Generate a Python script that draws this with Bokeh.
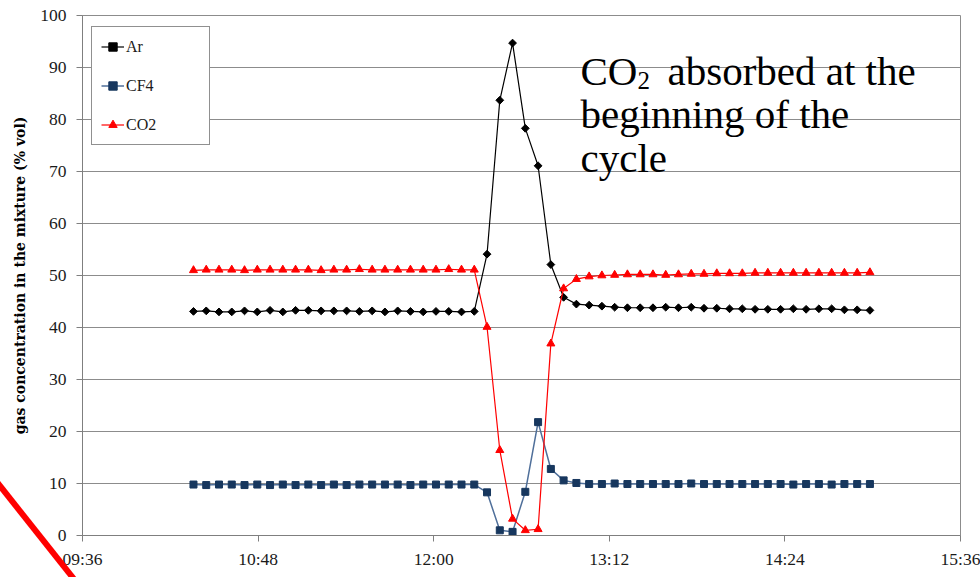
import math
from bokeh.plotting import figure
from bokeh.models import FixedTicker, Label
from bokeh.embed import file_html
from bokeh.resources import INLINE

# ---------------- data ----------------
times = ["10:21:30", "10:26:44", "10:31:58", "10:37:12", "10:42:26", "10:47:40",
         "10:52:54", "10:58:08", "11:03:22", "11:08:36", "11:13:50", "11:19:04",
         "11:24:18", "11:29:32", "11:34:46", "11:40:00", "11:45:14", "11:50:28",
         "11:55:42", "12:00:56", "12:06:10", "12:11:24", "12:16:38", "12:21:52",
         "12:27:06", "12:32:20", "12:37:34", "12:42:48", "12:48:02", "12:53:16",
         "12:58:30", "13:03:44", "13:08:58", "13:14:12", "13:19:26", "13:24:40",
         "13:29:54", "13:35:08", "13:40:22", "13:45:36", "13:50:50", "13:56:04",
         "14:01:18", "14:06:32", "14:11:46", "14:17:00", "14:22:14", "14:27:28",
         "14:32:42", "14:37:56", "14:43:10", "14:48:24", "14:53:38", "14:58:52"]

ar = [43.1, 43.2, 43.0, 43.0, 43.2, 43.0, 43.3, 43.0, 43.3, 43.3, 43.2, 43.2,
      43.2, 43.1, 43.2, 43.0, 43.2, 43.1, 43.0, 43.1, 43.1, 43.0, 43.1,
      54.1, 83.7, 94.7, 78.3, 71.1, 52.1,
      45.8, 44.5, 44.3, 44.1, 43.9, 43.8, 43.8, 43.8, 43.9, 43.8, 43.9, 43.7,
      43.7, 43.6, 43.6, 43.5, 43.5, 43.5, 43.6, 43.5, 43.6, 43.6, 43.4, 43.4, 43.3]

cf4 = [9.8, 9.7, 9.8, 9.8, 9.7, 9.8, 9.7, 9.8, 9.7, 9.8, 9.7, 9.8,
       9.7, 9.8, 9.8, 9.8, 9.8, 9.7, 9.8, 9.8, 9.8, 9.8, 9.8,
       8.3, 1.0, 0.7, 8.4, 21.8, 12.8, 10.6, 10.1,
       9.9, 9.9, 10.0, 9.9, 9.9, 9.9, 9.9, 9.9, 10.0, 9.9, 9.9, 9.9,
       9.9, 9.9, 9.9, 9.9, 9.8, 9.9, 9.9, 9.8, 9.9, 9.9, 9.9]

co2 = [51.0, 51.1, 51.1, 51.1, 51.0, 51.1, 51.1, 51.1, 51.1, 51.1, 51.0, 51.1,
       51.1, 51.2, 51.1, 51.1, 51.1, 51.1, 51.1, 51.1, 51.2, 51.1, 51.1,
       40.1, 16.4, 3.2, 1.0, 1.2, 36.9,
       47.5, 49.3, 49.8, 50.0, 50.1, 50.2, 50.2, 50.2, 50.1, 50.2, 50.3, 50.3,
       50.4, 50.4, 50.4, 50.5, 50.5, 50.5, 50.5, 50.5, 50.5, 50.5, 50.5, 50.5, 50.6]

x_tick_labels = ["09:36", "10:48", "12:00", "13:12", "14:24", "15:36"]
y_ticks = [0, 10, 20, 30, 40, 50, 60, 70, 80, 90, 100]
series_names = ["Ar", "CF4", "CO2"]
y_axis_title = "gas concentration in the mixture (% vol)"


def to_min(s):
    parts = [int(v) for v in s.split(":")]
    m = parts[0] * 60 + parts[1]
    if len(parts) > 2:
        m += parts[2] / 60.0
    return m


x = [to_min(t) for t in times]
x_ticks = [to_min(t) for t in x_tick_labels]

W, H = 980, 577
L, R, T, B = 82, 20, 15, 42

# red slash across the lower-left corner of the slide (pure decoration, drawn by CSS)
sx0, sy0, sx1, sy1 = -12, 471, 96, 607
cx, cy = (sx0 + sx1) / 2, (sy0 + sy1) / 2
slen = math.hypot(sx1 - sx0, sy1 - sy0)
sdeg = -math.degrees(math.atan2(sx1 - sx0, sy1 - sy0))
slash_css = (
    ":host { overflow: hidden; }\n"
    ":host::after { content: ''; position: absolute; "
    f"left: {cx - 3:.1f}px; top: {cy - slen / 2:.1f}px; width: 6px; height: {slen:.1f}px; "
    f"background: #ff0000; transform: rotate({sdeg:.2f}deg); transform-origin: 50% 50%; "
    "z-index: 100; pointer-events: none; }"
)

p = figure(width=W, height=H, x_range=(x_ticks[0], x_ticks[-1]), y_range=(0, 100),
           output_backend="svg", toolbar_location=None, title=None,
           min_border_left=L, min_border_right=R, min_border_top=T, min_border_bottom=B,
           stylesheets=[slash_css])
p.background_fill_color = "white"
p.border_fill_color = "white"
p.outline_line_color = "#8c8c8c"
p.outline_line_width = 1

# frame pixel -> data helpers (for annotations only)
fw = W - L - R
fh = H - T - B


def px2x(px):
    return x_ticks[0] + (px - L) * (x_ticks[-1] - x_ticks[0]) / fw


def py2y(py):
    return (T + fh - py) * 100.0 / fh


# grid / axes
p.xgrid.visible = False
p.ygrid.grid_line_color = "#8c8c8c"
p.ygrid.grid_line_width = 1
p.ygrid.ticker = FixedTicker(ticks=y_ticks)

p.xaxis.ticker = FixedTicker(ticks=x_ticks)
p.xaxis.major_label_overrides = {t: l for t, l in zip(x_ticks, x_tick_labels)}
p.yaxis.ticker = FixedTicker(ticks=y_ticks)

for ax in (p.xaxis, p.yaxis):
    ax.axis_line_color = "#7f7f7f"
    ax.major_tick_line_color = "#7f7f7f"
    ax.minor_tick_line_color = None
    ax.major_tick_in = 0
    ax.major_tick_out = 6
    ax.major_label_text_font = "Liberation Serif"
    ax.major_label_text_font_size = "17.5px"
    ax.major_label_text_color = "#1a1a1a"

p.xaxis.major_label_standoff = 7
p.yaxis.major_label_standoff = 10
p.yaxis.axis_label = y_axis_title
p.yaxis.axis_label_text_font = "DejaVu Serif"
p.yaxis.axis_label_text_font_style = "bold"
p.yaxis.axis_label_text_font_size = "14px"
p.yaxis.axis_label_text_color = "black"
p.yaxis.axis_label_standoff = 9

# series
p.line(x, ar, line_color="black", line_width=1.2, legend_label=series_names[0])
p.scatter(x, ar, marker="square", angle=0.785398, size=5.5, fill_color="black",
          line_color="black", legend_label=series_names[0])

p.line(x, cf4, line_color="#4f6f9a", line_width=1.5, legend_label=series_names[1])
p.scatter(x, cf4, marker="square", size=7, fill_color="#17375e",
          line_color="#17375e", legend_label=series_names[1])

p.line(x, co2, line_color="#ff0000", line_width=1.2, legend_label=series_names[2])
p.scatter(x, co2, marker="triangle", size=8, fill_color="#ff0000",
          line_color="#ff0000", legend_label=series_names[2])

# legend
lg = p.legend[0]
lg.location = (9, 390)
lg.margin = 0
lg.padding = 9
lg.spacing = 18
lg.glyph_width = 23
lg.glyph_height = 21
lg.label_height = 21
lg.label_width = 74
lg.label_standoff = 2
lg.border_line_color = "#222222"
lg.border_line_width = 1
lg.background_fill_color = "white"
lg.background_fill_alpha = 1
lg.label_text_font = "Liberation Serif"
lg.label_text_font_size = "16px"
lg.label_text_color = "#1a1a1a"

# annotation text
fs = "41px"
for txt, px, py, size in [("CO", 580, 70, fs), ("2", 637, 80, "25px"),
                          ("absorbed at the", 667, 70, fs),
                          ("beginning of the", 580, 113, fs),
                          ("cycle", 580, 157, fs)]:
    p.add_layout(Label(x=px2x(px), y=py2y(py), text=txt, text_font="Liberation Serif",
                       text_font_size=size, text_color="black",
                       text_baseline="alphabetic", text_align="left"))

open("out.html", "w").write(file_html(p, INLINE))
